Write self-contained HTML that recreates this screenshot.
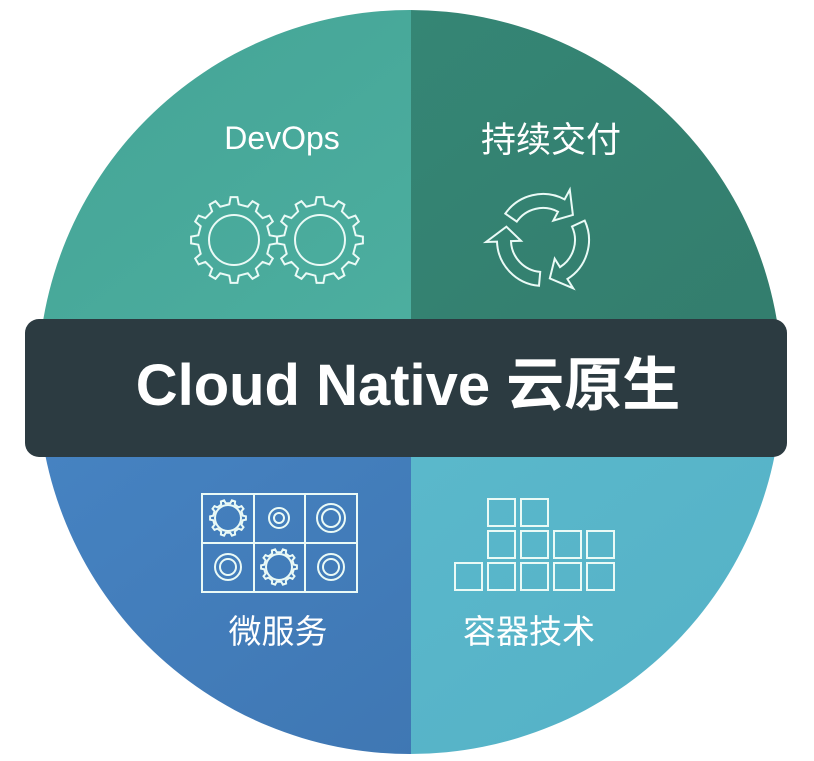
<!DOCTYPE html>
<html><head><meta charset="utf-8"><style>
html,body{margin:0;padding:0;background:#fff;width:814px;height:761px;overflow:hidden}
text{font-family:"Liberation Sans","Noto Sans CJK SC",sans-serif;fill:#fff}
</style></head><body>
<svg id="s" width="814" height="761" viewBox="0 0 814 761" xmlns="http://www.w3.org/2000/svg">
<defs>
<clipPath id="c"><ellipse cx="410" cy="382" rx="372" ry="372"/></clipPath>
<linearGradient id="tl" x1="0" y1="0" x2="1" y2="1"><stop offset="0" stop-color="#44a395"/><stop offset="1" stop-color="#4cae9f"/></linearGradient>
<linearGradient id="tr" x1="0" y1="0" x2="1" y2="1"><stop offset="0" stop-color="#358675"/><stop offset="1" stop-color="#337d6d"/></linearGradient>
<linearGradient id="bl" x1="0" y1="0" x2="1" y2="1"><stop offset="0" stop-color="#4683c2"/><stop offset="1" stop-color="#3f77b3"/></linearGradient>
<linearGradient id="br" x1="0" y1="0" x2="1" y2="1"><stop offset="0" stop-color="#5ab8cb"/><stop offset="1" stop-color="#54b0c6"/></linearGradient>
</defs>
<g clip-path="url(#c)">
<rect x="0" y="0" width="411" height="320" fill="url(#tl)"/>
<rect x="411" y="0" width="403" height="320" fill="url(#tr)"/>
<rect x="0" y="456" width="411" height="305" fill="url(#bl)"/>
<rect x="411" y="456" width="403" height="305" fill="url(#br)"/>
</g>
<rect x="25" y="319" width="762" height="138" rx="14" fill="#2c3b41"/>
<text x="282" y="149" font-size="32" text-anchor="middle">DevOps</text>
<text x="551" y="152" font-size="35" text-anchor="middle">持续交付</text>
<text x="408" y="405" font-size="58" font-weight="bold" text-anchor="middle">Cloud Native 云原生</text>
<text x="278" y="643" font-size="33" text-anchor="middle">微服务</text>
<text x="529" y="643" font-size="33" text-anchor="middle">容器技术</text>
<g id="icons" fill="none" stroke="#eafaf6" stroke-width="2">
<circle cx="234" cy="240" r="25"/>
<circle cx="320" cy="240" r="25"/>
<rect x="202" y="494" width="155" height="98"/>
<line x1="254" y1="494" x2="254" y2="592"/><line x1="305" y1="494" x2="305" y2="592"/>
<line x1="202" y1="543" x2="357" y2="543"/>
<circle cx="228" cy="518" r="13"/>
<circle cx="279" cy="518" r="10"/><circle cx="279" cy="518" r="5"/>
<circle cx="331" cy="518" r="14"/><circle cx="331" cy="518" r="9"/>
<circle cx="228" cy="567" r="13"/><circle cx="228" cy="567" r="8"/>
<circle cx="279" cy="567" r="13"/>
<circle cx="331" cy="567" r="13"/><circle cx="331" cy="567" r="8"/>
<rect x="488" y="499" width="27" height="27"/><rect x="521" y="499" width="27" height="27"/>
<rect x="488" y="531" width="27" height="27"/><rect x="521" y="531" width="27" height="27"/><rect x="554" y="531" width="27" height="27"/><rect x="587" y="531" width="27" height="27"/>
<rect x="455" y="563" width="27" height="27"/><rect x="488" y="563" width="27" height="27"/><rect x="521" y="563" width="27" height="27"/><rect x="554" y="563" width="27" height="27"/><rect x="587" y="563" width="27" height="27"/>
</g>
</svg>
<script>
function P(cx,cy,r,a){a=a*Math.PI/180;return (cx+r*Math.cos(a)).toFixed(1)+","+(cy+r*Math.sin(a)).toFixed(1);}
function gear(cx,cy,r1,r2,n){var p="";for(var i=0;i<n;i++){var a=i*2*Math.PI/n,w=Math.PI/n;var pts=[[a-w*0.5,r1],[a-w*0.3,r2],[a+w*0.3,r2],[a+w*0.5,r1],[a+w*1.5,r1]];pts.forEach(function(q,j){var x=cx+q[1]*Math.cos(q[0]),y=cy+q[1]*Math.sin(q[0]);p+=(i==0&&j==0?"M":"L")+x.toFixed(1)+","+y.toFixed(1)});}return p+"Z";}
function arrow(cx,cy,a0,a1){var ri=32,ro=46,hi=22,ho=57,tip=a1+22,rm=39;
return "M"+P(cx,cy,ro,a0)+" A"+ro+","+ro+" 0 0 1 "+P(cx,cy,ro,a1)+" L"+P(cx,cy,ho,a1)+" L"+P(cx,cy,rm,tip)+" L"+P(cx,cy,hi,a1)+" L"+P(cx,cy,ri,a1)+" A"+ri+","+ri+" 0 0 0 "+P(cx,cy,ri,a0)+" Z";}
var g=document.getElementById("icons");
function add(d){var e=document.createElementNS("http://www.w3.org/2000/svg","path");e.setAttribute("d",d);g.appendChild(e);}
[[234,240,36,43,12],[320,240,36,43,12],[228,518,15,18,10],[279,567,15,18,10]].forEach(function(a){add(gear.apply(null,a));});
[-150,-30,90].forEach(function(s){add(arrow(543,240,s+5,s+88));});
</script>
</body></html>
